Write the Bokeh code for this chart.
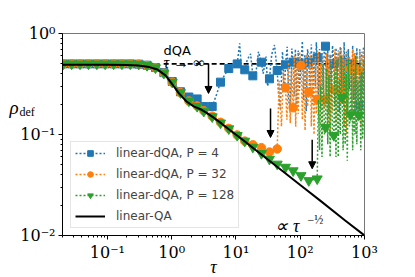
from bokeh.plotting import figure
from bokeh.models import (Range1d, FixedTicker, CustomJSTickFormatter, Label,
                          Legend, LegendItem, Arrow, NormalHead)
from bokeh.embed import file_html
from bokeh.resources import INLINE

# ---------------- data ----------------
# marker positions (tau) shared by the three dQA series
mk_tau = [0.0206, 0.0278, 0.0375, 0.0507, 0.0684, 0.0923, 0.125, 0.168, 0.227,
          0.307, 0.414, 0.559, 0.755, 1.02, 1.37, 1.85, 2.49, 3.16, 4.27, 5.75,
          7.73, 10.45, 13.7, 18.3, 24.9, 33.2, 43.8, 59.0, 77.6, 102.8, 135.9,
          183.6, 247, 333, 449, 606, 815]

blue_mk = [0.5, 0.5, 0.5, 0.5, 0.5, 0.5, 0.5, 0.5, 0.5,
           0.497, 0.485, 0.46, 0.41, 0.335, 0.265, 0.235, 0.225, 0.189, 0.189, 0.33,
           0.45, 0.50, 0.437, 0.381, 0.52, 0.356, 0.43, 0.49, 0.52, 0.50, 0.52,
           0.575, 0.749, 0.50, 0.52, 0.50, 0.194]
orange_mk = [0.5, 0.5, 0.5, 0.5, 0.5, 0.5, 0.5, 0.5, 0.5,
             0.497, 0.483, 0.458, 0.405, 0.33, 0.26, 0.215, 0.192, 0.172, 0.152, 0.132,
             0.115, 0.099, 0.086, 0.079, 0.074, 0.067, 0.072, 0.29, 0.184, 0.482, 0.263,
             0.222, 0.222, 0.277, 0.263, 0.447, 0.43]
green_mk = [0.5, 0.5, 0.5, 0.5, 0.5, 0.5, 0.5, 0.5, 0.5,
            0.497, 0.483, 0.458, 0.405, 0.33, 0.26, 0.215, 0.19, 0.17, 0.15, 0.13,
            0.114, 0.098, 0.086, 0.075, 0.065, 0.057, 0.051, 0.0475, 0.0438, 0.0392, 0.035,
            0.0364, 0.118, 0.0978, 0.232, 0.157, 0.156]

# intermediate (unmarked) points of the dotted lines
blue_mid_tau = [5.0, 6.7, 9.0, 11.4, 12.4, 15.0, 16.9, 20.0, 22.4, 26.5, 29.5, 31.0,
                36.0, 39.8, 46.0, 49.0, 53.0, 56.5, 62.7, 66.0, 70.0, 74.0, 81.0, 84.0,
                89.0, 93.0, 97.0, 108, 113, 118, 124, 130, 142, 149, 156, 164, 172, 178,
                191, 200, 209, 218, 228, 238, 257, 268, 280, 292, 305, 318, 346, 360,
                375, 390, 405, 420, 435, 465, 482, 500, 520, 540, 560, 582, 630, 655,
                680, 705, 732, 760, 787, 845, 875, 905, 935, 965, 1000]
blue_mid_rho = [0.25, 0.39, 0.48, 0.80, 0.40, 0.55, 0.63, 0.36, 0.66, 0.40, 0.59, 0.30,
                0.62, 0.77, 0.25, 0.18, 0.66, 0.26, 0.74, 0.22, 0.17, 0.71, 0.24, 0.70,
                0.19, 0.68, 0.27, 0.84, 0.22, 0.62, 0.17, 0.70, 0.25, 0.78, 0.20, 0.66,
                0.30, 0.82, 0.24, 0.70, 0.18, 0.64, 0.28, 0.80, 0.21, 0.70, 0.16, 0.62,
                0.26, 0.76, 0.19, 0.72, 0.25, 0.68, 0.17, 0.74, 0.30, 0.20, 0.82, 0.24,
                0.66, 0.17, 0.70, 0.28, 0.18, 0.76, 0.22, 0.64, 0.16, 0.72, 0.26, 0.70,
                0.20, 0.66, 0.25, 0.74, 0.40]

orange_mid_tau = [47.0, 51.0, 55.0, 62.0, 66.0, 70.0, 73.5, 81.0, 85.0, 89.0, 93.0,
                  97.5, 108, 113, 119, 125, 130, 142, 149, 156, 164, 172, 178, 191,
                  200, 209, 218, 228, 238, 257, 268, 280, 292, 305, 318, 346, 360, 375,
                  390, 405, 420, 435, 465, 482, 500, 520, 540, 560, 582, 630, 655, 680,
                  705, 732, 760, 787, 845, 875, 905, 935, 965, 1000]
orange_mid_rho = [0.34, 0.12, 0.42, 0.14, 0.52, 0.13, 0.45, 0.60, 0.12, 0.55, 0.16,
                  0.66, 0.14, 0.56, 0.11, 0.62, 0.19, 0.64, 0.12, 0.52, 0.10, 0.60, 0.16,
                  0.66, 0.13, 0.50, 0.09, 0.58, 0.18, 0.64, 0.11, 0.55, 0.10, 0.62, 0.17,
                  0.70, 0.13, 0.60, 0.10, 0.66, 0.20, 0.72, 0.62, 0.12, 0.56, 0.10, 0.68,
                  0.22, 0.60, 0.15, 0.70, 0.11, 0.64, 0.10, 0.58, 0.14, 0.66, 0.12, 0.60,
                  0.10, 0.68, 0.45]

green_mid_tau = [192, 200, 209, 218, 228, 238, 257, 268, 280, 292, 305, 318, 346, 360,
                 375, 390, 405, 420, 435, 465, 482, 500, 520, 540, 560, 582, 630, 655,
                 680, 705, 732, 760, 787, 845, 875, 905, 935, 965, 1000]
green_mid_rho = [0.22, 0.07, 0.30, 0.06, 0.50, 0.10, 0.45, 0.08, 0.38, 0.06, 0.50, 0.09,
                 0.42, 0.06, 0.55, 0.06, 0.35, 0.10, 0.60, 0.07, 0.48, 0.08, 0.40, 0.055,
                 0.55, 0.12, 0.50, 0.07, 0.45, 0.10, 0.60, 0.08, 0.35, 0.52, 0.07, 0.42,
                 0.09, 0.55, 0.10]

# linear-QA reference curve
qa_tau = [0.02, 0.1, 0.2, 0.3, 0.45, 0.6, 0.8, 1.0, 1.3, 1.7, 2.2, 2.8, 3.5, 4.5, 6,
          8, 12, 20, 50, 100, 200, 500, 1000]
qa_rho = [0.49, 0.49, 0.488, 0.482, 0.465, 0.44, 0.385, 0.32, 0.255, 0.212, 0.19,
          0.178, 0.164, 0.147, 0.128, 0.111, 0.0912, 0.0707, 0.0447, 0.0316, 0.0224,
          0.0141, 0.01]

# dQA tau -> infinity level (dashed)
inf_tau = [0.75, 1000]
inf_rho = [0.5, 0.5]

# arrows
arrow_tau = [3.74, 34.5, 153.5]
arrow_from = [0.505, 0.181, 0.0886]
arrow_to = [0.255, 0.0934, 0.0458]

series_labels = ["linear-dQA, P = 4", "linear-dQA, P = 32", "linear-dQA, P = 128"]
qa_label = "linear-QA"
colors = ["#1f77b4", "#ff7f0e", "#2ca02c"]

x_major = [0.1, 1, 10, 100, 1000]
y_major = [0.01, 0.1, 1]


def merged(mk_x, mk_y, mid_x, mid_y):
    pts = sorted(list(zip(mk_x, mk_y)) + list(zip(mid_x, mid_y)))
    return [a for a, _ in pts], [b for _, b in pts]


# ---------------- figure ----------------
p = figure(width=415, height=277, x_axis_type="log", y_axis_type="log",
           x_range=Range1d(0.02, 1000), y_range=Range1d(0.01, 1),
           output_backend="svg", toolbar_location=None,
           min_border_left=62, min_border_right=51, min_border_top=33,
           min_border_bottom=42)
p.xgrid.visible = False
p.ygrid.visible = False
p.outline_line_color = "#777777"
p.background_fill_color = "white"
p.border_fill_color = "white"

x_minor = [m * 10.0 ** k for k in range(-2, 3) for m in range(2, 10)]
y_minor = [m * 10.0 ** k for k in range(-2, 0) for m in range(2, 10)]
p.xaxis.ticker = FixedTicker(ticks=x_major, minor_ticks=x_minor)
p.yaxis.ticker = FixedTicker(ticks=y_major, minor_ticks=y_minor)
fmt_code = """
const e = Math.round(Math.log10(tick));
const m = {"-": "\u207b", "0": "\u2070", "1": "\u00b9", "2": "\u00b2", "3": "\u00b3"};
return "10" + String(e).split("").map(c => m[c]).join("");
"""
for ax in (p.xaxis[0], p.yaxis[0]):
    ax.formatter = CustomJSTickFormatter(code=fmt_code)
    ax.major_label_text_font = "DejaVu Serif"
    ax.major_label_text_font_size = "16px"
    ax.major_label_text_color = "black"
    ax.axis_line_color = "black"
    ax.major_tick_out = 4
    ax.major_tick_in = 0
    ax.minor_tick_out = 2
    ax.minor_tick_in = 0
    ax.major_tick_line_color = "black"
    ax.minor_tick_line_color = "black"
p.yaxis.major_label_standoff = 3
p.xaxis.major_label_standoff = 3

p.line(inf_tau, inf_rho, line_color="black", line_width=1.6, line_dash="5 3")

renderers = []
for mk_y, mid_x, mid_y, col, mark, size in [
        (blue_mk, blue_mid_tau, blue_mid_rho, colors[0], "square", 8),
        (orange_mk, orange_mid_tau, orange_mid_rho, colors[1], "circle", 8.5),
        (green_mk, green_mid_tau, green_mid_rho, colors[2], "inverted_triangle", 10)]:
    lx, ly = merged(mk_tau, mk_y, mid_x, mid_y)
    lr = p.line(lx, ly, line_color=col, line_width=1.5, line_dash="2 2")
    sr = p.scatter(mk_tau, mk_y, marker=mark, size=size, fill_color=col,
                   line_color=col)
    renderers.append([lr, sr])

qa_r = p.line(qa_tau, qa_rho, line_color="black", line_width=2)

for xt, y0, y1 in zip(arrow_tau, arrow_from, arrow_to):
    p.add_layout(Arrow(end=NormalHead(size=7, fill_color="black", line_color="black"),
                       x_start=xt, y_start=y0, x_end=xt, y_end=y1,
                       line_color="black", line_width=1.5))

items = [LegendItem(label=lab, renderers=r) for lab, r in zip(series_labels, renderers)]
items.append(LegendItem(label=qa_label, renderers=[qa_r]))
leg = Legend(items=items, location=(8, 7), label_text_font="DejaVu Sans",
             label_text_font_size="12px", glyph_width=30, glyph_height=14,
             label_height=14, label_standoff=11, spacing=7, padding=4, margin=0,
             border_line_color="#cccccc", border_line_width=1,
             background_fill_alpha=0.85)
p.add_layout(leg)

serif = "Liberation Serif"
texts = [
    dict(x=0.745, y=0.679, text="dQA", text_font="DejaVu Sans", text_font_size="13px",
         text_align="left"),
    dict(x=0.745, y=0.522, text="\u03c4 \u2192 \u221e", text_font=serif,
         text_font_size="16px", text_font_style="italic", text_align="left"),
    dict(x=41.2, y=0.01256, text="\u221d \u03c4", text_font=serif, text_font_size="18px",
         text_font_style="italic", text_align="left"),
    dict(x=129.7, y=0.01408, text="\u2212\u00bd", text_font=serif, text_font_size="12px",
         text_align="left"),
]
for t in texts:
    p.add_layout(Label(text_baseline="alphabetic", text_color="black", **t))

# axis titles: placed in side panels so they are not clipped to the frame;
# positions are given in data units of the plot scales
outside = [
    ("above", dict(x=0.00299, y=0.183, text="\u03c1", text_font_size="19px",
                   text_font_style="italic", text_align="left")),
    ("right", dict(x=0.00428, y=0.167, text="def", text_font_size="12px",
                   text_align="left")),
    ("right", dict(x=4.47, y=0.00493, text="\u03c4", text_font_size="18px",
                   text_font_style="italic", text_align="center")),
]
for side, t in outside:
    p.add_layout(Label(text_baseline="alphabetic", text_color="black", text_font=serif,
                       **t), side)

open("out.html", "w").write(file_html(p, INLINE))
